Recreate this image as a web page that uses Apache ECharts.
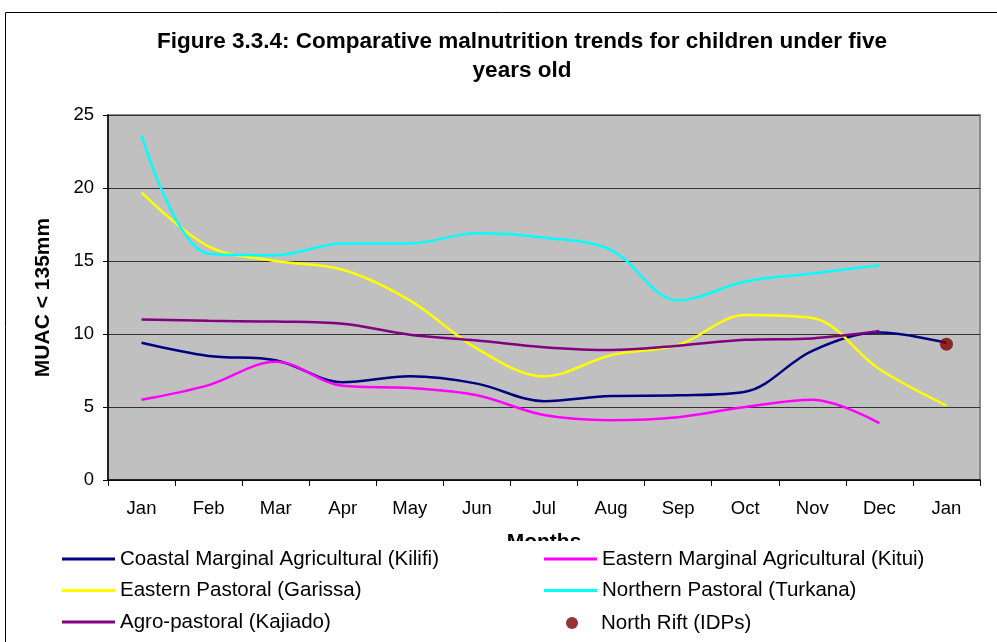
<!DOCTYPE html>
<html>
<head>
<meta charset="utf-8">
<script src="https://cdn.jsdelivr.net/npm/echarts@6/dist/echarts.min.js"></script>
<style>
  html, body { margin: 0; padding: 0; background: #fff; }
  #chart { width: 997px; height: 642px; }
</style>
</head>
<body>
<div id="chart"></div>
<script>
// months along the x axis (13 categories, Jan repeats)
const months = ['Jan', 'Feb', 'Mar', 'Apr', 'May', 'Jun', 'Jul', 'Aug', 'Sep', 'Oct', 'Nov', 'Dec', 'Jan'];

// values
const kilifi = [9.4, 8.5, 8.2, 6.7, 7.1, 6.6, 5.4, 5.75, 5.8, 6.05, 8.85, 10.1, 9.4];
const kitui = [5.5, 6.5, 8.1, 6.45, 6.3, 5.8, 4.45, 4.1, 4.3, 5.0, 5.5, 3.9, null];
const garissa = [19.7, 16.0, 15.0, 14.4, 12.3, 9.0, 7.1, 8.55, 9.25, 11.3, 11.1, 7.6, 5.1];
const turkana = [23.6, 15.5, 15.4, 16.2, 16.2, 16.9, 16.6, 15.75, 12.3, 13.6, 14.15, 14.7, null];
const kajiado = [11.0, 10.9, 10.85, 10.7, 9.95, 9.55, 9.1, 8.9, 9.2, 9.6, 9.7, 10.2, null];
const northRift = [null, null, null, null, null, null, null, null, null, null, null, null, 9.3];

const font = 'Liberation Sans, Arial, sans-serif';
const myChart = echarts.init(document.getElementById('chart'));

function lineSeries(name, data, color) {
  return {
    name: name,
    type: 'line',
    data: data,
    smooth: 0.35,
    showSymbol: false,
    symbol: 'none',
    lineStyle: { color: color, width: 2.5 },
    itemStyle: { color: color },
  };
}

const legendText = { fontFamily: font, fontSize: 20.5, color: '#000', lineHeight: 22 };

const option = {
  animation: false,
  backgroundColor: '#fff',
  title: {
    text: 'Figure 3.3.4: Comparative malnutrition trends for children under five\nyears old',
    left: 517,
    top: 22,
    textAlign: 'center',
    textStyle: { fontFamily: font, fontSize: 22.5, fontWeight: 'bold', color: '#000', lineHeight: 29 },
  },
  graphic: [
    {
      type: 'rect',
      z: 3,
      shape: { x: 6, y: 541, width: 990, height: 100 },
      style: { fill: '#fff' },
    },
    {
      type: 'rect',
      z: 10,
      shape: { x: 5.5, y: 12.5, width: 1000, height: 700 },
      style: { fill: 'none', stroke: '#000', lineWidth: 1 },
    },
  ],
  legend: [
    {
      z: 6,
      orient: 'vertical',
      left: 62,
      top: 548,
      padding: 0,
      itemGap: 9.5,
      itemWidth: 53,
      itemHeight: 3,
      itemStyle: { borderWidth: 0 },
      textStyle: legendText,
      data: [
        { name: 'Coastal Marginal Agricultural (Kilifi)', icon: 'rect' },
        { name: 'Eastern Pastoral (Garissa)', icon: 'rect' },
        { name: 'Agro-pastoral (Kajiado)', icon: 'rect' },
      ],
    },
    {
      z: 6,
      orient: 'vertical',
      left: 544,
      top: 548,
      padding: 0,
      itemGap: 9.5,
      itemWidth: 53,
      itemHeight: 3,
      itemStyle: { borderWidth: 0 },
      textStyle: legendText,
      data: [
        { name: 'Eastern Marginal Agricultural (Kitui)', icon: 'rect' },
        { name: 'Northern Pastoral (Turkana)', icon: 'rect' },
      ],
    },
    {
      z: 6,
      orient: 'vertical',
      left: 566,
      top: 612,
      padding: 0,
      itemWidth: 12,
      itemHeight: 12,
      textStyle: Object.assign({}, legendText, { padding: [0, 0, 0, 18] }),
      data: [{ name: 'North Rift (IDPs)', icon: 'circle' }],
    },
  ],
  grid: {
    left: 108,
    right: 17,
    top: 115,
    bottom: 162,
    show: true,
    backgroundColor: '#C0C0C0',
    borderColor: '#8a8a8a',
    borderWidth: 2,
  },
  xAxis: {
    type: 'category',
    data: months,
    boundaryGap: true,
    name: 'Months',
    nameLocation: 'middle',
    nameGap: 52,
    nameTextStyle: { fontFamily: font, fontSize: 21, fontWeight: 'bold', color: '#000', verticalAlign: 'top' },
    axisLine: { lineStyle: { color: '#000', width: 1.5 } },
    axisTick: { show: true, length: 6, lineStyle: { color: '#000' } },
    axisLabel: { fontFamily: font, fontSize: 18.5, color: '#000', margin: 19 },
    splitLine: { show: false },
  },
  yAxis: {
    type: 'value',
    min: 0,
    max: 25,
    interval: 5,
    name: 'MUAC < 135mm',
    nameLocation: 'middle',
    nameGap: 54,
    nameTextStyle: { fontFamily: font, fontSize: 21, fontWeight: 'bold', color: '#000' },
    axisLine: { show: true, lineStyle: { color: '#000', width: 1.5 } },
    axisTick: { show: true, length: 5, lineStyle: { color: '#000' } },
    axisLabel: { fontFamily: font, fontSize: 18.5, color: '#000', margin: 14 },
    splitLine: { show: true, lineStyle: { color: '#333', width: 1 } },
  },
  series: [
    lineSeries('Coastal Marginal Agricultural (Kilifi)', kilifi, '#000080'),
    lineSeries('Eastern Marginal Agricultural (Kitui)', kitui, '#FF00FF'),
    lineSeries('Eastern Pastoral (Garissa)', garissa, '#FFFF00'),
    lineSeries('Northern Pastoral (Turkana)', turkana, '#00FFFF'),
    lineSeries('Agro-pastoral (Kajiado)', kajiado, '#800080'),
    {
      name: 'North Rift (IDPs)',
      type: 'scatter',
      data: northRift,
      symbol: 'circle',
      symbolSize: 13,
      itemStyle: { color: '#800000' },
      z: 5,
    },
  ],
};

myChart.setOption(option);
</script>
</body>
</html>
